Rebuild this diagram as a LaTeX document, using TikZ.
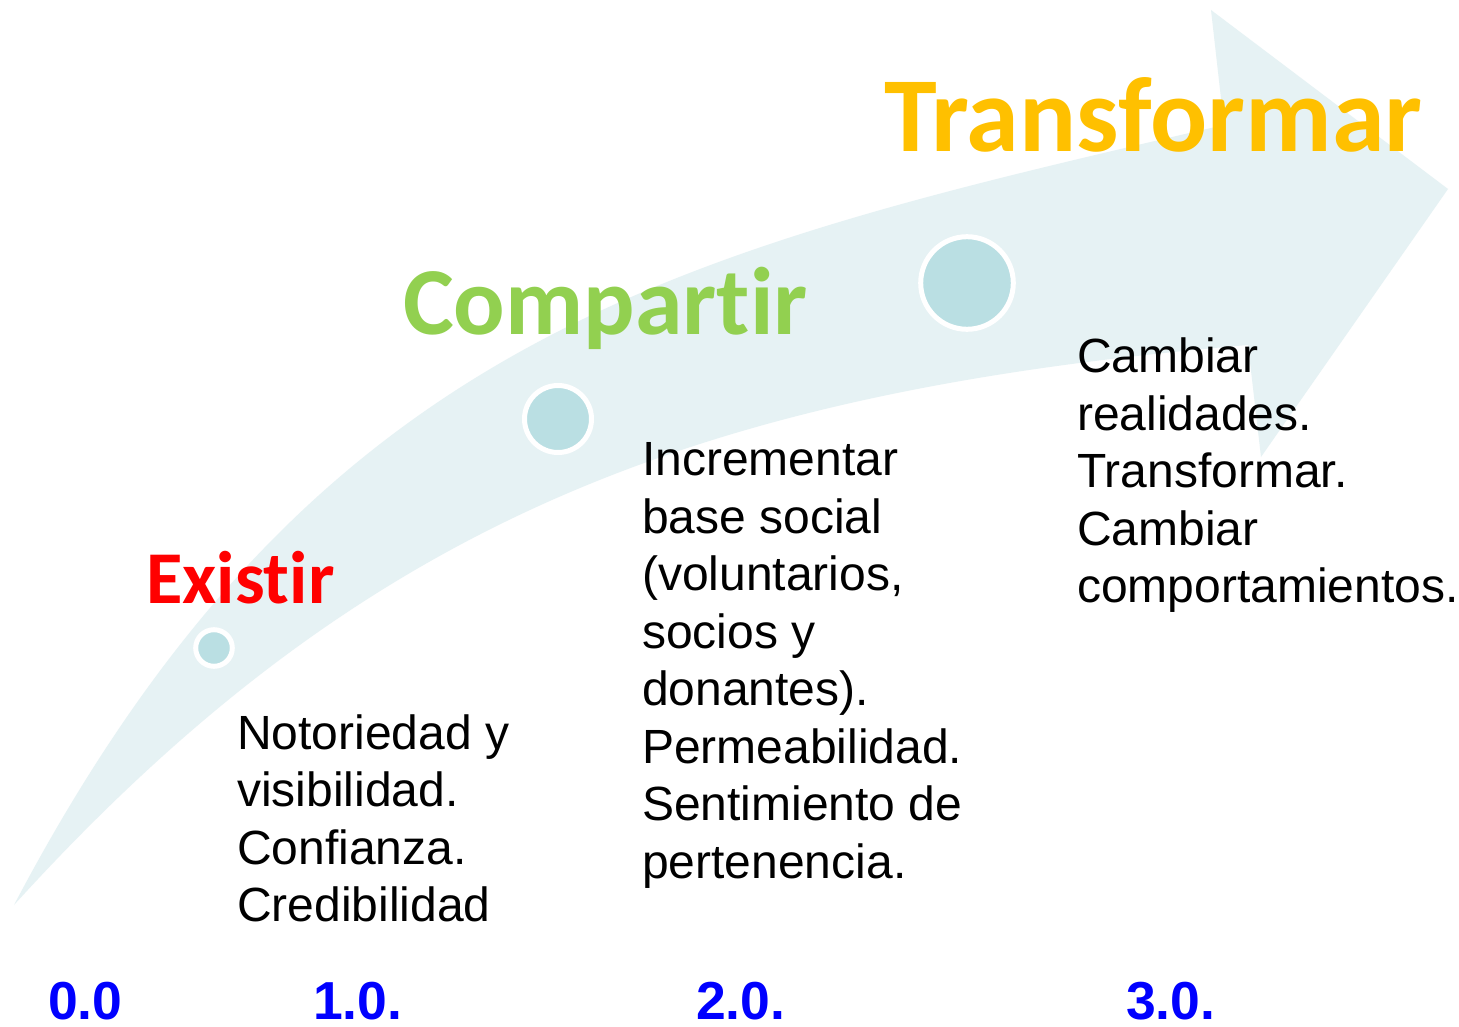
\documentclass[tikz,border=0pt]{standalone}
\usepackage{fontspec}
\setmainfont{Liberation Sans}
\newfontfamily\titlefont{Carlito}[RawFeature={-liga;-clig;-calt;-dlig}]
\definecolor{arrowfill}{HTML}{E6F2F4}
\definecolor{dotfill}{HTML}{BADFE3}
\definecolor{tred}{HTML}{FF0000}
\definecolor{tgreen}{HTML}{92D050}
\definecolor{tgold}{HTML}{FFC000}
\definecolor{tblue}{HTML}{0000FF}
\begin{document}
\begin{tikzpicture}[x=1pt,y=-1pt,
  dot/.style={circle,draw=white,line width=5pt,fill=dotfill,inner sep=0pt},
  title/.style={anchor=base west,inner sep=0pt,font=\titlefont\bfseries},
  body/.style={anchor=north west,inner sep=0pt,align=left,font=\fontsize{48}{57.5}\selectfont},
  level/.style={anchor=base west,inner sep=0pt,text=tblue,font=\fontsize{53.5}{60}\selectfont\bfseries}]
\useasboundingbox (0,0) rectangle (1459,1027);
\fill[white] (0,0) rectangle (1459,1027);
% curved arrow
\fill[arrowfill] (14,905) .. controls (314,335) and (674,252) .. (1224,125)
  -- (1211,10) -- (1448,189) -- (1261,457) -- (1248,345)
  .. controls (698,392) and (364,520) .. (14,905) -- cycle;
% dots
\node[dot,minimum size=36.6pt] (d1) at (214,648) {};
\node[dot,minimum size=67pt] (d2) at (558,419) {};
\node[dot,minimum size=92.6pt] (d3) at (967,283) {};
% titles
\node[title,text=tred,font=\titlefont\bfseries\fontsize{74.5}{80}\selectfont] (t1) at (146,603) {Existir};
\node[title,text=tgreen,font=\titlefont\bfseries\fontsize{96}{100}\selectfont] (t2) at (403,334) {Compartir};
\node[title,text=tgold,font=\titlefont\bfseries\fontsize{106.5}{120}\selectfont] (t3) at (884,152) {Transformar};
% descriptions
\node[body] (b1) at (237,714.5) {Notoriedad y\\visibilidad.\\Confianza.\\Credibilidad};
\node[body] (b2) at (642,442.5) {Incrementar\\base social\\(voluntarios,\\socios y\\donantes).\\Permeabilidad.\\Sentimiento de\\pertenencia.};
\node[body] (b3) at (1077,338) {Cambiar\\realidades.\\Transformar.\\Cambiar\\comportamientos.};
% levels
\node[level] (l0) at (48,1019) {0.0};
\node[level] (l1) at (313,1019) {1.0.};
\node[level] (l2) at (696,1019) {2.0.};
\node[level] (l3) at (1126,1019) {3.0.};
\end{tikzpicture}
\end{document}
